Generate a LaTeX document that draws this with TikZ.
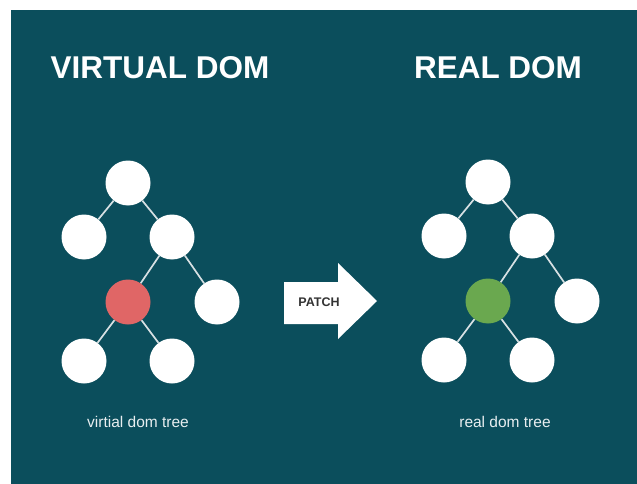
\documentclass[tikz,border=0pt]{standalone}
\usepackage{fontspec}
\setmainfont{Liberation Sans}
\usetikzlibrary{positioning}

\definecolor{dombg}{RGB}{11,78,92}
\definecolor{edgegray}{RGB}{215,224,227}
\definecolor{oldred}{RGB}{224,102,102}
\definecolor{newgreen}{RGB}{106,168,79}
\definecolor{captiongray}{RGB}{232,238,240}

\begin{document}
\begin{tikzpicture}[x=1pt, y=-1pt, on grid,
    main node/.style={circle,fill=white,minimum size=45pt,inner sep=0pt},
    tree edge/.style={draw=edgegray,line width=1.7pt},
    title/.style={text=white,font=\fontsize{31.5}{34}\selectfont\bfseries},
    caption/.style={text=captiongray,font=\fontsize{15.5}{18}\selectfont}]

    \useasboundingbox (0,0) rectangle (637,484);
    \fill[dombg] (11,10) rectangle (637,484);

    \node[title] (vtitle) at (160,68) {VIRTUAL DOM};
    \node[title] (rtitle) at (498,68) {REAL DOM};

    % virtual tree
    \node[main node] (v1) at (128,183) {};
    \node[main node] (v2) [below left=54pt and 44pt of v1] {};
    \node[main node] (v3) [below right=54pt and 44pt of v1] {};
    \node[main node, fill=oldred] (v4) [below left=65pt and 44pt of v3] {};
    \node[main node] (v5) [below right=65pt and 45pt of v3] {};
    \node[main node] (v6) [below left=59pt and 44pt of v4] {};
    \node[main node] (v7) [below right=59pt and 44pt of v4] {};

    \draw[tree edge] (v1) -- (v2);
    \draw[tree edge] (v1) -- (v3);
    \draw[tree edge] (v3) -- (v4);
    \draw[tree edge] (v3) -- (v5);
    \draw[tree edge] (v4) -- (v6);
    \draw[tree edge] (v4) -- (v7);

    % real tree
    \node[main node] (r1) at (488,182) {};
    \node[main node] (r2) [below left=54pt and 44pt of r1] {};
    \node[main node] (r3) [below right=54pt and 44pt of r1] {};
    \node[main node, fill=newgreen] (r4) [below left=65pt and 44pt of r3] {};
    \node[main node] (r5) [below right=65pt and 45pt of r3] {};
    \node[main node] (r6) [below left=59pt and 44pt of r4] {};
    \node[main node] (r7) [below right=59pt and 44pt of r4] {};

    \draw[tree edge] (r1) -- (r2);
    \draw[tree edge] (r1) -- (r3);
    \draw[tree edge] (r3) -- (r4);
    \draw[tree edge] (r3) -- (r5);
    \draw[tree edge] (r4) -- (r6);
    \draw[tree edge] (r4) -- (r7);

    \node[caption] (vcap) at (138,422) {virtial dom tree};
    \node[caption] (rcap) at (505,422) {real dom tree};

    % patch arrow
    \fill[white] (284,282) -- (338,282) -- (338,263) -- (377,301)
        -- (338,339) -- (338,324) -- (284,324) -- cycle;
    \node[text=black!80,font=\fontsize{12.5}{14}\selectfont\bfseries] (patch) at (319,302) {PATCH};

\end{tikzpicture}
\end{document}
